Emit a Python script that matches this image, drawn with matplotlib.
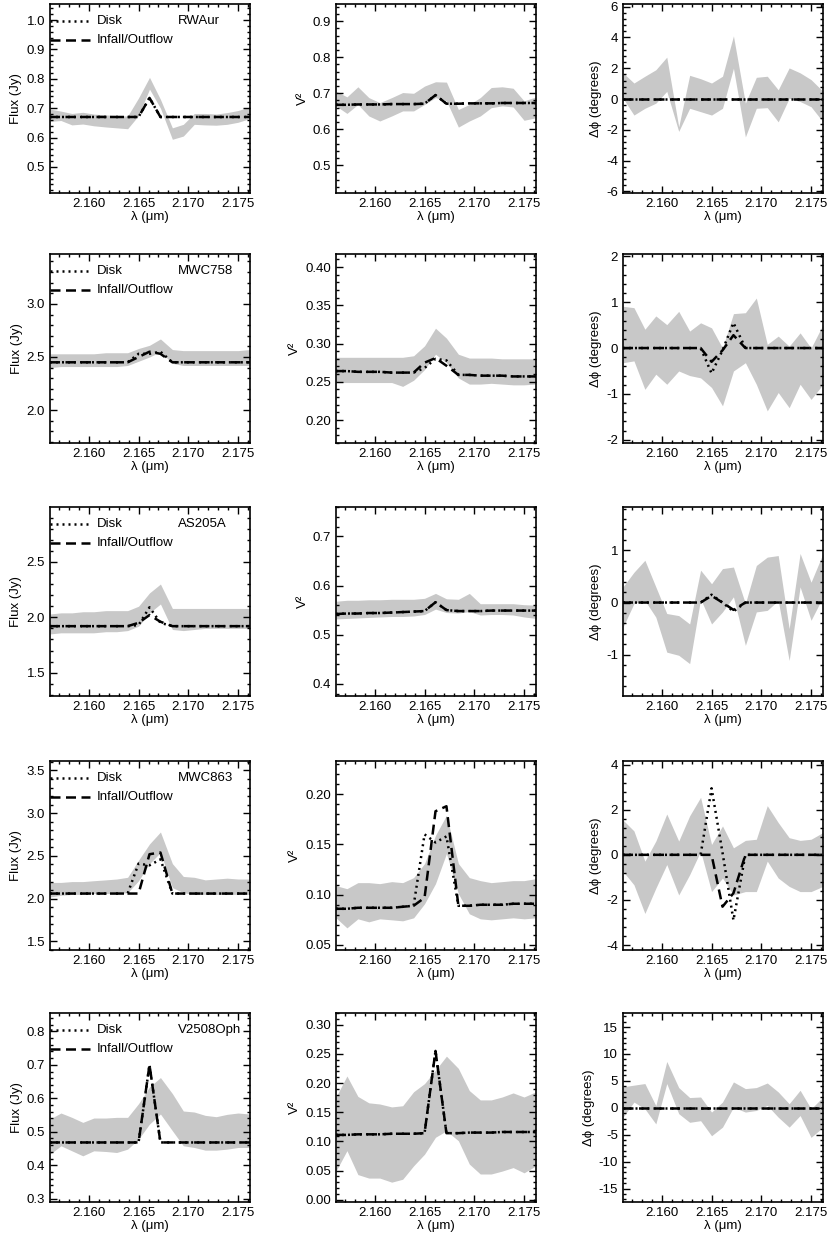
import matplotlib
matplotlib.use("Agg")
import matplotlib.pyplot as plt
from matplotlib.ticker import MultipleLocator, AutoMinorLocator, FormatStrFormatter

plt.rcParams['font.family'] = ['Liberation Sans', 'DejaVu Sans']

# ---------------- data ----------------
wl = [2.1561, 2.1572, 2.1583, 2.1594, 2.1605, 2.1617, 2.1628, 2.1639, 2.1650, 2.1661,
      2.1672, 2.1684, 2.1695, 2.1706, 2.1717, 2.1728, 2.1739, 2.1750, 2.1762]

stars = ["RWAur", "MWC758", "AS205A", "MWC863", "V2508Oph"]

# RWAur
rwaur_flux_lo = [0.655, 0.658, 0.643, 0.646, 0.640, 0.636, 0.633, 0.630, 0.675, 0.765, 0.700, 0.594, 0.605, 0.645, 0.643, 0.642, 0.645, 0.652, 0.665]
rwaur_flux_hi = [0.697, 0.690, 0.682, 0.686, 0.680, 0.677, 0.675, 0.673, 0.735, 0.805, 0.730, 0.633, 0.645, 0.682, 0.682, 0.680, 0.685, 0.692, 0.705]
rwaur_flux_disk = [0.670, 0.670, 0.670, 0.670, 0.670, 0.670, 0.670, 0.670, 0.670, 0.735, 0.670, 0.670, 0.670, 0.670, 0.670, 0.670, 0.670, 0.670, 0.670]
rwaur_flux_inf = [0.670, 0.670, 0.670, 0.670, 0.670, 0.670, 0.670, 0.670, 0.670, 0.735, 0.670, 0.670, 0.670, 0.670, 0.670, 0.670, 0.670, 0.670, 0.670]
rwaur_vis_lo = [0.665, 0.644, 0.669, 0.637, 0.623, 0.637, 0.651, 0.651, 0.669, 0.688, 0.679, 0.606, 0.623, 0.637, 0.660, 0.665, 0.662, 0.625, 0.632]
rwaur_vis_hi = [0.706, 0.690, 0.718, 0.688, 0.674, 0.688, 0.702, 0.700, 0.720, 0.732, 0.731, 0.655, 0.669, 0.688, 0.716, 0.718, 0.714, 0.679, 0.690]
rwaur_vis_disk = [0.668, 0.668, 0.669, 0.669, 0.669, 0.670, 0.670, 0.670, 0.671, 0.695, 0.671, 0.671, 0.672, 0.672, 0.672, 0.673, 0.673, 0.673, 0.673]
rwaur_vis_inf = [0.668, 0.668, 0.669, 0.669, 0.669, 0.670, 0.670, 0.670, 0.671, 0.695, 0.671, 0.671, 0.672, 0.672, 0.672, 0.673, 0.673, 0.673, 0.673]
rwaur_phi_lo = [0.05, -1.04, -0.6, -0.27, 0.5, -2.1, -0.6, -0.82, -1.04, -0.6, 2.0, -2.46, -0.6, -0.56, -1.48, 0.05, -0.16, -0.5, -1.48]
rwaur_phi_hi = [1.7, 1.04, 1.48, 1.9, 2.72, -1.8, 1.54, 1.32, 1.04, 1.48, 4.1, -0.27, 1.41, 1.48, 0.6, 2.02, 1.7, 1.26, 0.5]
rwaur_phi_disk = [0.0] * 19
rwaur_phi_inf = [0.0] * 19

# MWC758
mwc758_flux_lo = [2.40, 2.41, 2.41, 2.41, 2.41, 2.41, 2.41, 2.42, 2.46, 2.50, 2.55, 2.44, 2.42, 2.42, 2.42, 2.42, 2.42, 2.42, 2.42]
mwc758_flux_hi = [2.53, 2.53, 2.53, 2.53, 2.53, 2.54, 2.54, 2.54, 2.58, 2.61, 2.67, 2.57, 2.56, 2.56, 2.56, 2.56, 2.56, 2.56, 2.57]
mwc758_flux_disk = [2.45, 2.45, 2.45, 2.45, 2.45, 2.45, 2.45, 2.45, 2.53, 2.53, 2.55, 2.45, 2.45, 2.45, 2.45, 2.45, 2.45, 2.45, 2.45]
mwc758_flux_inf = [2.45, 2.45, 2.45, 2.45, 2.45, 2.45, 2.45, 2.45, 2.50, 2.55, 2.53, 2.45, 2.45, 2.45, 2.45, 2.45, 2.45, 2.45, 2.45]
mwc758_vis_lo = [0.249, 0.249, 0.249, 0.249, 0.249, 0.249, 0.244, 0.252, 0.266, 0.286, 0.275, 0.255, 0.247, 0.247, 0.248, 0.247, 0.246, 0.246, 0.247]
mwc758_vis_hi = [0.282, 0.282, 0.282, 0.282, 0.282, 0.282, 0.282, 0.284, 0.297, 0.320, 0.307, 0.286, 0.281, 0.281, 0.281, 0.280, 0.280, 0.280, 0.280]
mwc758_vis_disk = [0.264, 0.264, 0.263, 0.263, 0.263, 0.262, 0.262, 0.262, 0.268, 0.280, 0.278, 0.259, 0.259, 0.258, 0.258, 0.258, 0.257, 0.257, 0.257]
mwc758_vis_inf = [0.264, 0.264, 0.263, 0.263, 0.263, 0.262, 0.262, 0.262, 0.275, 0.281, 0.271, 0.259, 0.259, 0.258, 0.258, 0.258, 0.257, 0.257, 0.257]
mwc758_phi_lo = [-0.32, -0.28, -0.9, -0.57, -0.79, -0.5, -0.6, -0.65, -0.86, -1.26, -0.5, -0.32, -0.79, -1.37, -0.97, -1.3, -0.79, -1.12, -0.79]
mwc758_phi_hi = [0.91, 0.88, 0.41, 0.70, 0.51, 0.80, 0.37, 0.55, 0.44, 0.0, 0.75, 0.77, 1.09, 0.08, 0.26, 0.04, 0.33, 0.0, 0.51]
mwc758_phi_disk = [0, 0, 0, 0, 0, 0, 0, 0, -0.55, -0.05, 0.55, 0, 0, 0, 0, 0, 0, 0, 0]
mwc758_phi_inf = [0, 0, 0, 0, 0, 0, 0, 0, -0.30, -0.05, 0.28, 0, 0, 0, 0, 0, 0, 0, 0]

# AS205A
as205_flux_lo = [1.85, 1.86, 1.86, 1.86, 1.86, 1.87, 1.87, 1.88, 1.92, 2.04, 2.12, 1.89, 1.88, 1.89, 1.90, 1.90, 1.90, 1.90, 1.90]
as205_flux_hi = [2.03, 2.04, 2.04, 2.05, 2.05, 2.06, 2.06, 2.06, 2.10, 2.22, 2.30, 2.08, 2.08, 2.08, 2.08, 2.08, 2.08, 2.08, 2.08]
as205_flux_disk = [1.92, 1.92, 1.92, 1.92, 1.92, 1.92, 1.92, 1.92, 1.93, 2.09, 1.95, 1.92, 1.92, 1.92, 1.92, 1.92, 1.92, 1.92, 1.92]
as205_flux_inf = [1.92, 1.92, 1.92, 1.92, 1.92, 1.92, 1.92, 1.92, 1.95, 2.02, 1.96, 1.92, 1.92, 1.92, 1.92, 1.92, 1.92, 1.92, 1.92]
as205_vis_lo = [0.532, 0.533, 0.534, 0.535, 0.536, 0.537, 0.537, 0.538, 0.541, 0.552, 0.545, 0.544, 0.547, 0.540, 0.541, 0.541, 0.540, 0.536, 0.533]
as205_vis_hi = [0.568, 0.570, 0.570, 0.571, 0.571, 0.572, 0.572, 0.572, 0.574, 0.584, 0.573, 0.572, 0.584, 0.563, 0.563, 0.563, 0.563, 0.561, 0.560]
as205_vis_disk = [0.542, 0.543, 0.543, 0.544, 0.544, 0.545, 0.546, 0.547, 0.548, 0.566, 0.550, 0.548, 0.548, 0.548, 0.549, 0.549, 0.549, 0.549, 0.549]
as205_vis_inf = [0.542, 0.543, 0.543, 0.544, 0.544, 0.545, 0.546, 0.547, 0.548, 0.566, 0.550, 0.548, 0.548, 0.548, 0.549, 0.549, 0.549, 0.549, 0.549]
as205_phi_lo = [-0.47, -0.02, 0.04, -0.28, -0.95, -1.01, -1.17, 0.07, -0.41, -0.18, 0.11, -0.82, -0.18, -0.15, 0.04, -1.11, 0.30, -0.34, 0.11]
as205_phi_hi = [0.30, 0.58, 0.81, 0.30, -0.21, -0.25, -0.41, 0.62, 0.36, 0.65, 0.68, -0.02, 0.71, 0.87, 0.90, -0.50, 0.94, 0.39, 0.94]
as205_phi_disk = [0, 0, 0, 0, 0, 0, 0, 0, 0.15, 0.0, -0.17, 0, 0, 0, 0, 0, 0, 0, 0]
as205_phi_inf = [0, 0, 0, 0, 0, 0, 0, 0, 0.13, 0.0, -0.14, 0, 0, 0, 0, 0, 0, 0, 0]

# MWC863
mwc863_flux_lo = [2.02, 2.04, 2.05, 2.05, 2.06, 2.06, 2.06, 2.07, 2.21, 2.41, 2.54, 2.13, 2.07, 2.05, 2.05, 2.05, 2.05, 2.05, 2.05]
mwc863_flux_hi = [2.19, 2.19, 2.20, 2.20, 2.21, 2.22, 2.23, 2.25, 2.45, 2.64, 2.78, 2.41, 2.26, 2.25, 2.22, 2.23, 2.24, 2.23, 2.23]
mwc863_flux_disk = [2.06, 2.06, 2.06, 2.06, 2.06, 2.06, 2.06, 2.06, 2.41, 2.39, 2.46, 2.06, 2.06, 2.06, 2.06, 2.06, 2.06, 2.06, 2.06]
mwc863_flux_inf = [2.06, 2.06, 2.06, 2.06, 2.06, 2.06, 2.06, 2.06, 2.06, 2.52, 2.54, 2.06, 2.06, 2.06, 2.06, 2.06, 2.06, 2.06, 2.06]
mwc863_vis_lo = [0.077, 0.067, 0.076, 0.073, 0.076, 0.075, 0.074, 0.077, 0.091, 0.111, 0.141, 0.101, 0.081, 0.076, 0.075, 0.076, 0.077, 0.076, 0.077]
mwc863_vis_hi = [0.109, 0.106, 0.112, 0.112, 0.111, 0.113, 0.112, 0.117, 0.131, 0.159, 0.179, 0.131, 0.117, 0.114, 0.112, 0.113, 0.114, 0.114, 0.116]
mwc863_vis_disk = [0.086, 0.086, 0.087, 0.087, 0.087, 0.087, 0.088, 0.089, 0.160, 0.152, 0.158, 0.089, 0.089, 0.090, 0.090, 0.090, 0.091, 0.091, 0.091]
mwc863_vis_inf = [0.086, 0.086, 0.087, 0.087, 0.087, 0.087, 0.088, 0.089, 0.097, 0.183, 0.188, 0.089, 0.089, 0.090, 0.090, 0.090, 0.091, 0.091, 0.091]
mwc863_phi_lo = [-0.73, -1.33, -2.6, -1.48, -0.43, -1.78, -0.88, 0.16, -1.63, -1.03, -1.78, -1.63, -1.63, -0.28, -1.03, -1.4, -1.63, -1.63, -1.4]
mwc863_phi_hi = [1.54, 1.06, -0.28, 0.61, 1.81, 0.61, 1.73, 2.55, 0.46, 1.28, 0.31, 0.64, 0.69, 2.18, 1.43, 0.76, 0.64, 0.69, 0.99]
mwc863_phi_disk = [0, 0, 0, 0, 0, 0, 0, 0, 2.95, 0.1, -2.9, 0, 0, 0, 0, 0, 0, 0, 0]
mwc863_phi_inf = [0, 0, 0, 0, 0, 0, 0, 0, 0.0, -2.3, -1.7, 0, 0, 0, 0, 0, 0, 0, 0]

# V2508Oph
v2508_flux_lo = [0.433, 0.458, 0.443, 0.428, 0.443, 0.441, 0.438, 0.448, 0.478, 0.523, 0.553, 0.503, 0.458, 0.453, 0.445, 0.445, 0.448, 0.453, 0.453]
v2508_flux_hi = [0.538, 0.556, 0.543, 0.528, 0.541, 0.541, 0.543, 0.543, 0.584, 0.634, 0.662, 0.614, 0.562, 0.559, 0.549, 0.545, 0.552, 0.556, 0.553]
v2508_flux_disk = [0.468, 0.468, 0.468, 0.468, 0.468, 0.468, 0.468, 0.468, 0.468, 0.700, 0.468, 0.468, 0.468, 0.468, 0.468, 0.468, 0.468, 0.468, 0.468]
v2508_flux_inf = [0.468, 0.468, 0.468, 0.468, 0.468, 0.468, 0.468, 0.468, 0.468, 0.700, 0.468, 0.468, 0.468, 0.468, 0.468, 0.468, 0.468, 0.468, 0.468]
v2508_vis_lo = [0.049, 0.084, 0.043, 0.037, 0.037, 0.030, 0.035, 0.058, 0.078, 0.107, 0.118, 0.101, 0.061, 0.044, 0.044, 0.049, 0.055, 0.046, 0.058]
v2508_vis_hi = [0.176, 0.212, 0.177, 0.166, 0.164, 0.159, 0.161, 0.185, 0.199, 0.222, 0.246, 0.225, 0.187, 0.171, 0.171, 0.176, 0.183, 0.176, 0.185]
v2508_vis_disk = [0.111, 0.111, 0.112, 0.112, 0.112, 0.113, 0.113, 0.113, 0.114, 0.255, 0.114, 0.114, 0.115, 0.115, 0.115, 0.116, 0.116, 0.116, 0.116]
v2508_vis_inf = [0.111, 0.111, 0.112, 0.112, 0.112, 0.113, 0.113, 0.113, 0.114, 0.255, 0.114, 0.114, 0.115, 0.115, 0.115, 0.116, 0.116, 0.116, 0.116]
v2508_phi_lo = [-1.75, 1.06, -0.2, -3.0, 4.5, -1.1, -2.7, -2.4, -5.2, -3.6, 0.1, -0.8, -0.5, 0.44, -1.75, -3.6, -1.44, -5.5, -3.6]
v2508_phi_hi = [3.9, 4.2, 4.5, 0.4, 8.6, 3.75, 1.9, 2.0, -0.8, 1.06, 4.8, 3.56, 3.75, 4.6, 2.94, 0.75, 3.25, -0.2, 2.0]
v2508_phi_disk = [0.0] * 19
v2508_phi_inf = [0.0] * 19

x_ticks = [2.160, 2.165, 2.170, 2.175]

# ---------------- layout ----------------
rows = [
    [(rwaur_flux_lo, rwaur_flux_hi, rwaur_flux_disk, rwaur_flux_inf),
     (rwaur_vis_lo, rwaur_vis_hi, rwaur_vis_disk, rwaur_vis_inf),
     (rwaur_phi_lo, rwaur_phi_hi, rwaur_phi_disk, rwaur_phi_inf)],
    [(mwc758_flux_lo, mwc758_flux_hi, mwc758_flux_disk, mwc758_flux_inf),
     (mwc758_vis_lo, mwc758_vis_hi, mwc758_vis_disk, mwc758_vis_inf),
     (mwc758_phi_lo, mwc758_phi_hi, mwc758_phi_disk, mwc758_phi_inf)],
    [(as205_flux_lo, as205_flux_hi, as205_flux_disk, as205_flux_inf),
     (as205_vis_lo, as205_vis_hi, as205_vis_disk, as205_vis_inf),
     (as205_phi_lo, as205_phi_hi, as205_phi_disk, as205_phi_inf)],
    [(mwc863_flux_lo, mwc863_flux_hi, mwc863_flux_disk, mwc863_flux_inf),
     (mwc863_vis_lo, mwc863_vis_hi, mwc863_vis_disk, mwc863_vis_inf),
     (mwc863_phi_lo, mwc863_phi_hi, mwc863_phi_disk, mwc863_phi_inf)],
    [(v2508_flux_lo, v2508_flux_hi, v2508_flux_disk, v2508_flux_inf),
     (v2508_vis_lo, v2508_vis_hi, v2508_vis_disk, v2508_vis_inf),
     (v2508_phi_lo, v2508_phi_hi, v2508_phi_disk, v2508_phi_inf)],
]

# (ylim, major step, format) per panel
yspec = [
    [((0.411, 1.055), 0.1, '%.1f'), ((0.423, 0.948), 0.1, '%.1f'), ((-6.1, 6.17), 2, '%d')],
    [((1.69, 3.47), 0.5, '%.1f'), ((0.17, 0.417), 0.05, '%.2f'), ((-2.07, 2.05), 1, '%d')],
    [((1.29, 2.995), 0.5, '%.1f'), ((0.375, 0.76), 0.1, '%.1f'), ((-1.79, 1.83), 1, '%d')],
    [((1.40, 3.61), 0.5, '%.1f'), ((0.045, 0.233), 0.05, '%.2f'), ((-4.22, 4.16), 2, '%d')],
    [((0.29, 0.855), 0.1, '%.1f'), ((-0.004, 0.32), 0.05, '%.2f'), ((-17.5, 17.6), 5, '%d')],
]
ylabels = ["Flux (Jy)", "V²", "Δϕ (degrees)"]

W, H = 831, 1241
fig = plt.figure(figsize=(W / 100, H / 100), dpi=100)
col_left = [50, 336, 623]
col_w = 200
row_top = [4, 254, 507, 761, 1013]
row_h = 189
band_color = '#c8c8c8'

for r in range(5):
    for c in range(3):
        lo, hi, disk, inf = rows[r][c]
        ax = fig.add_axes([col_left[c] / W, 1 - (row_top[r] + row_h) / H, col_w / W, row_h / H])
        ax.fill_between(wl, lo, hi, color=band_color, lw=0, zorder=1)
        ax.plot(wl, disk, color='black', lw=1.8, ls=(0, (0.8, 1.6)), zorder=3)
        ax.plot(wl, inf, color='black', lw=1.8, ls=(0, (4, 2.2)), zorder=3)
        ax.set_xlim(2.1561, 2.1762)
        (ylim, step, fmt) = yspec[r][c]
        ax.set_ylim(*ylim)
        ax.yaxis.set_major_locator(MultipleLocator(step))
        ax.yaxis.set_major_formatter(FormatStrFormatter(fmt))
        ax.yaxis.set_minor_locator(AutoMinorLocator(5))
        ax.set_xticks(x_ticks)
        ax.xaxis.set_major_formatter(FormatStrFormatter('%.3f'))
        ax.xaxis.set_minor_locator(MultipleLocator(0.001))
        ax.tick_params(which='both', direction='in', top=True, right=True, labelsize=9.5, width=1)
        ax.tick_params(which='major', length=5)
        ax.tick_params(which='minor', length=2.5)
        for s in ax.spines.values():
            s.set_linewidth(1.2)
        ax.set_xlabel("λ (μm)", fontsize=9.5, labelpad=1)
        ax.set_ylabel(ylabels[c], fontsize=9.5, labelpad=3)
        if c == 0:
            ax.plot([0.0, 0.2], [0.91, 0.91], transform=ax.transAxes, color='black',
                    lw=1.8, ls=(0, (0.8, 1.6)), clip_on=False, zorder=4)
            ax.plot([0.0, 0.2], [0.81, 0.81], transform=ax.transAxes, color='black',
                    lw=1.8, ls=(0, (4, 2.2)), clip_on=False, zorder=4)
            ax.text(0.235, 0.91, "Disk", transform=ax.transAxes, fontsize=9.5, va='center')
            ax.text(0.235, 0.81, "Infall/Outflow", transform=ax.transAxes, fontsize=9.5, va='center')
            ax.text(0.64, 0.91, stars[r], transform=ax.transAxes, fontsize=9.5, va='center')

fig.savefig("out.png", dpi=100)
